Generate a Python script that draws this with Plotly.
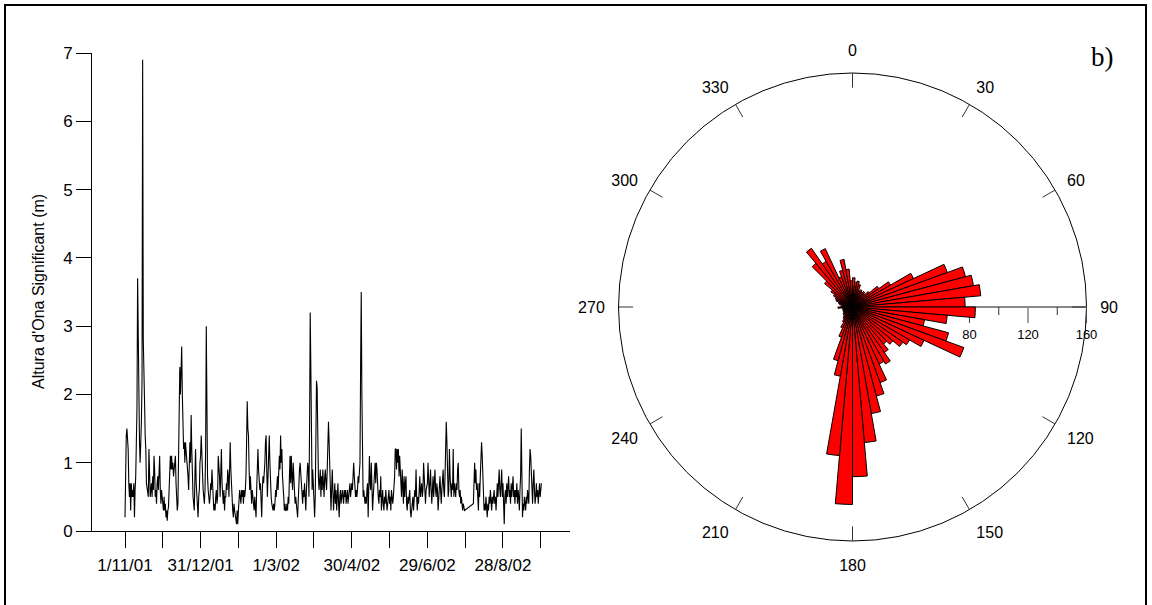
import numpy as np
import plotly.graph_objects as go

W, H = 1152, 605

# ---- significant wave height (m), half-day readings from 1/11/01 ----
hs_a = [
    0.2,1.3,1.4,1.5,1.3,1.2,0.7,0.5,0.7,0.3,0.7,0.5,0.6,0.5,0.7,0.2,0.6,0.8,1.3,1.8,
    3.7,2.5,1.8,1.3,1.0,1.2,1.6,2.2,6.9,2.8,2.0,1.9,1.4,1.2,0.7,0.6,0.5,0.5,1.2,0.8,
    0.5,0.6,0.7,0.5,0.8,0.6,1.1,0.9,0.5,0.6,0.4,0.7,0.8,0.6,0.9,1.1,0.6,0.4,0.6,0.5,
    0.5,0.3,0.5,0.3,0.4,0.2,0.3,0.15,0.3,0.35,0.6,0.8,1.1,0.9,1.1,0.9,1.0,0.8,0.9,1.1,
    1.1,0.7,0.5,0.3,0.4,1.0,1.7,2.4,2.0,2.5,2.7,2.0,1.3,1.2,1.3,1.0,1.3,1.2,1.0,0.9,
    0.8,0.6,1.0,1.3,1.0,1.7,1.2,0.6,0.5,0.4,0.3,0.8,1.2,0.7,0.5,0.4,0.2,0.5,0.6,1.0,
    1.1,1.4,1.0,0.8,0.6,0.5,0.4,0.6,1.2,3.0,1.5,0.8,0.6,0.5,0.4,0.5,0.7,0.6,0.9,0.7,
    0.5,0.3,0.4,0.3,0.5,0.6,0.4,0.5,1.1,1.0,0.8,0.5,0.9,1.2,0.7,0.5,0.4,0.6,0.3,0.5,
    0.5,0.7,0.6,0.9,0.8,0.5,0.9,1.3,0.9,0.6,0.4,0.3,0.2,0.4,0.3,0.2,0.1,0.1,0.3,0.1,
    0.3,0.4,0.6,0.5,0.4,0.6,0.5,0.6,0.4,0.6,0.5,0.6,0.8,1.3,1.9,1.5,1.4,0.9,0.6,0.8,
    0.5,0.4,0.6,0.5,0.4,0.3,0.5,0.4,0.2,0.6,1.0,1.2,0.9,0.8,0.6,0.7,0.4,0.2,0.6,0.8,
    0.7,0.8,1.0,1.3,1.4,0.9,0.5,0.8,1.0,1.4,1.0,0.6,0.5,0.4,0.3,0.3,0.4,0.3,0.4,0.6,
    0.5,0.7,0.8,0.6,0.9,1.1,0.9,1.4,1.0,1.2,0.8,0.7,0.5,0.3,0.4,0.3,0.3,0.4,0.3,0.5,
    0.4,0.8,1.1,0.7,1.1,0.8,0.6,1.0,0.7,0.5,0.4,0.5,0.3,0.3,0.2,0.5,0.8,0.9,1.0,0.8,
    0.6,0.5,0.4,0.6,0.5,0.7,0.4,0.3,0.6,0.8,1.0,0.9,0.5,1.5,3.2,2.4,1.1,0.6,0.9,0.7,
    0.4,0.2,0.5,1.5,2.2,2.1,1.2,0.8,0.6,0.8,0.9,0.5,0.8,0.6,0.9,0.7,0.5,0.8,0.9,0.7,
    0.6,0.9,1.2,1.6,1.3,1.0,0.8,0.3,0.6,0.9,0.6,0.3,0.5,0.7,0.4,0.6,0.3,0.5,0.7,0.4,
    0.2,0.5,0.6,0.4,0.5,0.6,0.5,0.4,0.6,0.5,0.6,0.4,0.5,0.6,0.4,0.5,0.6,0.7,0.5,0.6,
    0.7,0.6,0.9,1.0,0.8,0.7,0.5,0.6,0.5,0.6,0.8,0.7,0.9,1.0,2.4,3.5,2.0,0.8,0.5,0.6,
    0.5,0.4,0.5,0.4,0.6,0.7,0.2,0.9,1.1,0.7,0.6,1.0,0.4,0.3,0.5,0.7,0.9,1.0,0.7,1.0,
    0.9,0.6,0.5,0.4,0.6,0.5,0.8,0.3,0.5,0.6,0.4,0.3,0.5,0.4,0.6,0.5,0.3,0.4,0.5,0.6,
    0.4,0.5,0.3,0.6,0.5,0.4,0.5,0.6,0.8,1.2,1.2,0.9,1.2,1.0,1.2,0.8,1.1,0.9,0.6,0.5,
    0.9,0.6,0.4,0.8,0.5,0.7,0.8,0.4,0.3,0.5,0.4,0.5,0.6,0.3,0.2,0.3,0.4,0.5,0.3,0.5,
    0.6,0.5,0.9,0.5,0.3,0.5,0.4,0.6,0.8,0.5,0.6,0.7,0.5,0.6,1.0,0.7,0.5,0.4,0.6,0.7,
    0.7,1.0,0.8,0.5,0.7,0.9,0.6,0.4,0.6,0.8,0.5,0.7,0.9,0.6,0.5,0.7,0.6,0.3,0.5,0.7,
    0.8,0.6,0.4,0.6,0.8,0.9,0.6,0.5,0.8,1.1,1.6,1.3,0.8,0.5,0.6,1.2,0.8,0.6,0.5,0.7,
    0.6,1.2,0.5,0.7,0.6,0.5,0.7,0.6,0.9,1.0,0.6,0.5,0.6,0.4,0.5,0.4,0.3,0.4,0.3,0.3,
]
# after the data gap (from day 276.5)
hs_b = [
    0.4,0.9,1.0,0.7,0.9,0.6,0.7,0.5,0.3,0.7,0.5,0.8,1.0,1.3,1.1,0.7,0.5,0.3,0.4,0.3,0.5,0.4,0.2,0.4,0.3,0.5,0.4,
    0.6,0.5,0.3,0.5,0.4,0.5,0.6,0.4,0.5,0.3,0.6,0.7,0.5,0.8,0.9,0.6,0.5,0.7,0.9,0.5,
    0.7,0.4,0.1,0.5,0.6,0.4,0.7,0.5,0.6,0.8,0.5,0.6,0.4,0.7,0.5,0.6,0.8,0.5,0.6,0.4,
    0.6,0.5,0.7,0.4,0.6,0.5,0.3,0.6,0.8,1.5,0.9,0.2,0.4,0.3,0.5,0.4,0.3,0.5,0.4,0.6,
    0.5,0.4,0.9,1.2,1.1,0.8,0.6,0.4,0.7,0.9,0.6,0.4,0.5,0.7,0.5,0.6,0.4,0.5,0.7,0.5,0.6,0.7,
]
gap_start_day = 276.5
days = np.concatenate([np.arange(len(hs_a)) * 0.5,
                       gap_start_day + np.arange(len(hs_b)) * 0.5])
hs = hs_a + hs_b

x_tick_days = [0, 30, 60, 90, 120, 150, 180, 210, 240, 270, 300, 330]
x_tick_text = ["1/11/01", "", "31/12/01", "", "1/3/02", "", "30/4/02", "",
               "29/6/02", "", "28/8/02", ""]
y_ticks = [0, 1, 2, 3, 4, 5, 6, 7]

# ---- wave direction rose: 5-degree bins, counts ----
dir_bins = np.arange(72) * 5 + 2.5
dir_counts = [
    20, 17, 18, 16, 12, 13, 12, 13, 12, 15, 22, 30,
    46, 69, 80, 84, 88, 77, 84, 65, 50, 68, 81, 54,
    45, 42, 36, 33, 38, 45, 43, 55, 63, 74, 93, 116,
    135, 102, 48, 38, 22, 16, 12, 10, 9, 8, 8, 7,
    7, 6, 7, 6, 7, 10, 8, 7, 9, 10, 12, 13,
    15, 18, 25, 39, 49, 36, 44, 22, 26, 33, 26, 18,
]
ang_ticks = list(range(0, 360, 30))
ang_text = [str(a) for a in ang_ticks]
r_max = 160
r_major = [80, 120, 160]
r_minor = [100, 140]

cx, cy, R = 852.5, 307, 234
px_per_unit = R / r_max

# inward tick marks on the rim of the rose
tick_r, tick_t = [], []
for a in ang_ticks:
    tick_r += [r_max - 10, r_max, None]
    tick_t += [a, a, None]
# short minor ticks under the radial axis (drawn toward 90+)
d_minor = 8 / px_per_unit
for rv in r_minor:
    tick_r += [rv, float(np.hypot(rv, d_minor)), None]
    tick_t += [90, 90 + float(np.degrees(np.arctan2(d_minor, rv))), None]

FONT = "Liberation Sans, Arial, sans-serif"

fig = go.Figure()
fig.add_trace(go.Scatter(x=days, y=hs, mode="lines",
                         line=dict(color="black", width=1.1),
                         hoverinfo="skip", showlegend=False))
fig.add_trace(go.Barpolar(theta=dir_bins, r=dir_counts, width=5,
                          marker=dict(color="#ff0000",
                                      line=dict(color="black", width=1)),
                          hoverinfo="skip", showlegend=False))
fig.add_trace(go.Scatterpolar(r=tick_r, theta=tick_t, mode="lines",
                              line=dict(color="#333", width=1),
                              hoverinfo="skip", showlegend=False,
                              connectgaps=False))

fig.update_layout(
    width=W, height=H,
    margin=dict(l=0, r=0, t=0, b=0, pad=0, autoexpand=False),
    paper_bgcolor="white", plot_bgcolor="white",
    font=dict(family=FONT, color="black", size=16),
    showlegend=False,
    xaxis=dict(domain=[92 / W, 570 / W], range=[-26.2, 353.2],
               tickmode="array", tickvals=x_tick_days, ticktext=x_tick_text,
               ticks="outside", ticklen=16, tickcolor="black", tickwidth=1,
               ticklabelstandoff=3,
               showline=True, linecolor="black", linewidth=1,
               showgrid=False, zeroline=False, automargin=False,
               tickfont=dict(family=FONT, size=17, color="black")),
    yaxis=dict(domain=[1 - 531 / H, 1 - 53 / H], range=[0, 7],
               tickmode="array", tickvals=y_ticks,
               ticks="outside", ticklen=15, tickcolor="black", tickwidth=1,
               showline=True, linecolor="black", linewidth=1,
               showgrid=False, zeroline=False, automargin=False,
               tickfont=dict(family=FONT, size=17, color="black")),
    polar=dict(
        domain=dict(x=[(cx - R) / W, (cx + R) / W],
                    y=[1 - (cy + R) / H, 1 - (cy - R) / H]),
        bgcolor="white",
        angularaxis=dict(direction="clockwise", rotation=90,
                         tickmode="array", tickvals=ang_ticks, ticktext=ang_text,
                         ticks="outside", ticklen=10, tickcolor="rgba(0,0,0,0)",
                         showline=True, linecolor="black", linewidth=1,
                         showgrid=False, layer="below traces",
                         tickfont=dict(family=FONT, size=16, color="black")),
        radialaxis=dict(range=[0, r_max], angle=0, side="clockwise",
                        tickmode="array", tickvals=r_major,
                        ticktext=[str(v) for v in r_major],
                        ticks="outside", ticklen=15, tickcolor="#444",
                        showline=True, linecolor="#888", linewidth=2,
                        showgrid=False, layer="below traces",
                        tickfont=dict(family=FONT, size=13, color="black")),
        bargap=0,
    ),
    shapes=[dict(type="rect", xref="paper", yref="paper",
                 x0=5 / W, x1=1146 / W, y0=-0.05, y1=1 - 5 / H,
                 line=dict(color="black", width=2), fillcolor="rgba(0,0,0,0)")],
    annotations=[
        dict(text="Altura d'Ona Significant (m)", xref="paper", yref="paper",
             x=38 / W, y=1 - 292 / H, showarrow=False, textangle=-90,
             font=dict(family=FONT, size=16, color="black"),
             xanchor="center", yanchor="middle"),
        dict(text="b)", xref="paper", yref="paper",
             x=1102 / W, y=1 - 57 / H, showarrow=False,
             font=dict(family="Liberation Serif, Times New Roman, serif",
                       size=27, color="black"),
             xanchor="center", yanchor="middle"),
    ],
)

fig.write_html("out.html")
